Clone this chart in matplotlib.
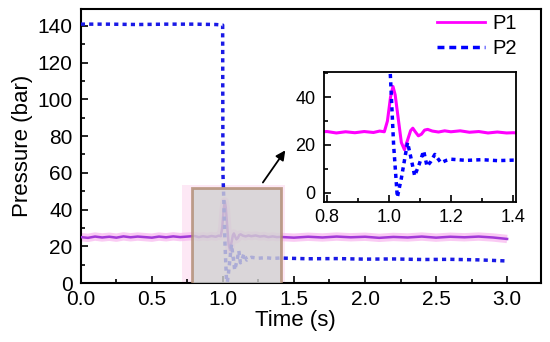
import matplotlib.pyplot as plt
from matplotlib.patches import Rectangle

plt.rcParams['font.family'] = ['Liberation Sans', 'DejaVu Sans']

# P1 pressure trace (bar)
t_p1 = [0.0, 0.05, 0.1, 0.15, 0.2, 0.25, 0.3, 0.35, 0.4, 0.45, 0.5, 0.55, 0.6,
        0.65, 0.7, 0.75, 0.8, 0.83, 0.86, 0.89, 0.92, 0.95, 0.97, 0.985, 0.995,
        1.005, 1.013, 1.02, 1.03, 1.04, 1.05, 1.06, 1.07, 1.077, 1.085, 1.095,
        1.105, 1.115, 1.125, 1.14, 1.16, 1.18, 1.2, 1.23, 1.26, 1.29, 1.32,
        1.35, 1.38, 1.4, 1.5, 1.6, 1.7, 1.8, 1.9, 2.0, 2.1, 2.2, 2.3, 2.4, 2.5,
        2.6, 2.7, 2.8, 2.9, 3.0]
p1 = [25.0, 24.6, 25.3, 24.8, 25.2, 24.7, 25.4, 24.9, 25.3, 25.0, 24.7, 25.3,
      24.9, 25.4, 25.0, 25.3, 25.6, 25.0, 25.5, 25.1, 25.6, 25.2, 25.8, 25.5,
      30.0, 40.0, 44.5, 41.0, 31.0, 21.0, 18.0, 22.0, 26.0, 27.0, 25.5, 23.8,
      24.5, 26.2, 26.5, 25.8, 25.4, 25.9, 25.5, 25.9, 25.3, 25.6, 25.0, 25.4,
      25.0, 25.1, 24.7, 25.2, 24.8, 25.3, 24.9, 25.2, 24.6, 25.1, 24.8, 25.3,
      24.7, 25.2, 24.9, 25.3, 24.8, 24.0]

# P2 pressure trace (bar)
t_p2 = [0.0, 0.2, 0.4, 0.6, 0.8, 0.95, 0.998, 1.0, 1.005, 1.015, 1.027, 1.04,
        1.06, 1.072, 1.083, 1.098, 1.112, 1.123, 1.135, 1.148, 1.168, 1.185,
        1.2, 1.25, 1.3, 1.35, 1.4, 1.6, 1.8, 2.0, 2.2, 2.4, 2.6, 2.8, 3.0]
p2 = [141.0, 141.0, 140.8, 141.0, 141.0, 140.8, 140.5, 60.0, 48.0, 20.0, -2.0,
      6.0, 21.0, 14.0, 7.0, 12.0, 17.5, 11.0, 13.0, 16.0, 12.5, 13.5, 14.0,
      13.5, 13.8, 13.4, 13.6, 13.2, 13.3, 13.0, 13.1, 12.8, 12.9, 12.6, 12.0]

dots = (0, (1.2, 1.2))

fig = plt.figure(figsize=(5.5, 3.42), dpi=100)
ax = fig.add_axes([0.147, 0.1725, 0.837, 0.8025])

ax.plot(t_p1, p1, color='#f9bdf0', lw=6, alpha=0.8, solid_capstyle='butt', zorder=2)
ax.plot(t_p1, p1, color='#a23ad8', lw=1.8, zorder=3)
ax.plot(t_p2, p2, color='#1a1ae6', lw=2.5, linestyle=dots, zorder=3)

# legend handles
ax.plot([], [], color='#ff00ff', lw=2, label='P1')
ax.plot([], [], color='#0000ff', lw=2.5, linestyle=(0, (2.0, 1.4)), label='P2')
ax.legend(loc='upper right', frameon=False, fontsize=14.5, handlelength=2.4,
          handletextpad=0.35, borderaxespad=0, labelspacing=0.3,
          bbox_to_anchor=(525 / 550, 1 - 6 / 342), bbox_transform=fig.transFigure)

# zoom box
ax.add_patch(Rectangle((0.71, -6.0), 0.73, 59.5, facecolor='#fde8f5', edgecolor='none',
                       zorder=1))
ax.add_patch(Rectangle((0.78, -4.7), 0.63, 56.2, facecolor='#d2d2d2', alpha=0.8,
                       edgecolor='#b08a70', lw=2, zorder=4))
ax.annotate('', xy=(1.45, 73.5), xytext=(1.27, 53.5),
            arrowprops=dict(arrowstyle='-|>', color='black', lw=1.3, mutation_scale=14))

ax.set_xlim(0, 3.24)
ax.set_ylim(0, 149.5)
ax.set_xticks([0, 0.5, 1.0, 1.5, 2.0, 2.5, 3.0])
ax.set_xticks([0.25, 0.75, 1.25, 1.75, 2.25, 2.75], minor=True)
ax.set_yticks(range(0, 141, 20))
ax.set_yticks(range(10, 150, 20), minor=True)
ax.set_xticklabels(['0.0', '0.5', '1.0', '1.5', '2.0', '2.5', '3.0'])
ax.tick_params(direction='in', which='major', length=5, width=1.2)
ax.tick_params(direction='in', which='minor', length=3, width=1.2)
ax.tick_params(axis='x', labelsize=15, pad=5)
ax.tick_params(axis='y', labelsize=15, pad=6)
ax.set_xlabel('Time (s)', fontsize=16, labelpad=0)
ax.xaxis.set_label_coords(0.465, -0.1)
ax.set_ylabel('Pressure (bar)', fontsize=16, labelpad=3)
for s in ax.spines.values():
    s.set_linewidth(1.5)

# inset
axi = fig.add_axes([0.589, 0.409, 0.349, 0.380])
axi.plot(t_p1, p1, color='#ff00ff', lw=2.2)
axi.plot(t_p2, p2, color='#0000ff', lw=2.5, linestyle=dots)
axi.set_xlim(0.79, 1.41)
axi.set_ylim(-4, 50.5)
axi.set_xticks([0.8, 1.0, 1.2, 1.4])
axi.set_xticks([0.9, 1.1, 1.3], minor=True)
axi.set_yticks([0, 20, 40])
axi.set_yticks([10, 30, 50], minor=True)
axi.set_xticklabels(['0.8', '1.0', '1.2', '1.4'])
axi.tick_params(direction='in', which='major', length=5, width=1.2, labelsize=13)
axi.tick_params(direction='in', which='minor', length=3, width=1.2)
axi.tick_params(axis='x', pad=5)
axi.tick_params(axis='y', pad=6)
for s in axi.spines.values():
    s.set_linewidth(1.3)

fig.savefig('out.png', dpi=100)
